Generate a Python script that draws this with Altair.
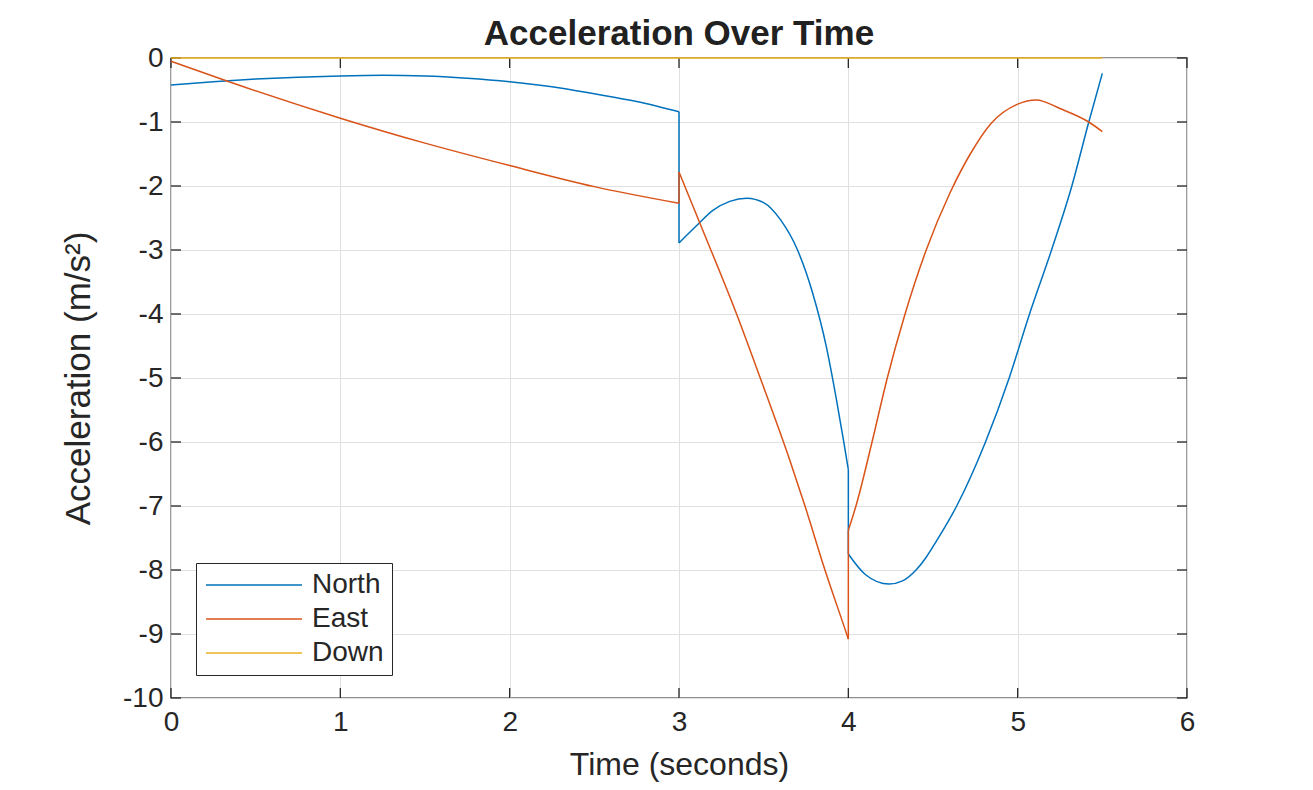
import altair as alt
import pandas as pd

# values; each series is split where it jumps
north_parts = [
    ([0.0, 0.25, 0.5, 0.75, 1.0, 1.25, 1.5, 1.75, 2.0, 2.25, 2.5, 2.75, 3.0],
     [-0.42, -0.37, -0.33, -0.30, -0.28, -0.27, -0.28, -0.315, -0.37, -0.45, -0.56, -0.68, -0.84]),
    ([3.0, 3.1, 3.2, 3.3, 3.4, 3.5, 3.6, 3.7, 3.79, 3.87, 3.93, 3.97, 4.0],
     [-2.89, -2.63, -2.38, -2.24, -2.19, -2.26, -2.53, -3.0, -3.68, -4.51, -5.34, -5.95, -6.43]),
    ([4.0, 4.1, 4.24, 4.32, 4.4, 4.46, 4.52, 4.64, 4.81, 4.95, 5.07, 5.2, 5.32, 5.42, 5.5],
     [-7.75, -8.07, -8.22, -8.17, -8.0, -7.8, -7.55, -7.0, -6.0, -5.0, -4.0, -3.0, -2.0, -1.0, -0.24]),
]
east_parts = [
    ([0.0, 0.33, 1.0, 1.5, 2.0, 2.5, 3.0],
     [-0.05, -0.36, -0.94, -1.33, -1.68, -2.01, -2.27]),
    ([3.0, 3.12, 3.34, 3.48, 3.655, 3.744, 3.862, 3.99, 4.0],
     [-1.78, -2.56, -4.0, -5.0, -6.29, -7.0, -8.0, -9.0, -9.08]),
    ([4.0, 4.045, 4.14, 4.23, 4.335, 4.46, 4.6, 4.72, 4.84, 5.0, 5.11, 5.25, 5.42, 5.5],
     [-7.38, -7.0, -6.0, -5.0, -4.0, -3.0, -2.11, -1.50, -1.03, -0.72, -0.655, -0.79, -1.0, -1.15]),
]
down_parts = [
    ([0.0, 5.5], [0.0, 0.0]),
]

series = ["North", "East", "Down"]
colors = ["#0072BD", "#D95319", "#EDB120"]

x_ticks = [0, 1, 2, 3, 4, 5, 6]
y_ticks = [0, -1, -2, -3, -4, -5, -6, -7, -8, -9, -10]

rows = []
for name, parts in zip(series, [north_parts, east_parts, down_parts]):
    prev = None
    for k, (ts, vs) in enumerate(parts):
        if prev is not None:
            # vertical connector at the jump
            seg = f"{name}-jump{k}"
            rows.append({"series": name, "seg": seg, "t": prev[0], "v": prev[1]})
            rows.append({"series": name, "seg": seg, "t": ts[0], "v": vs[0]})
        for t, v in zip(ts, vs):
            rows.append({"series": name, "seg": f"{name}-{k}", "t": t, "v": v})
        prev = (ts[-1], vs[-1])
df = pd.DataFrame(rows)
df["idx"] = range(len(df))

font = "Liberation Sans"
W, H = 1016, 640

xscale = alt.Scale(domain=[0, 6], nice=False, zero=False)
yscale = alt.Scale(domain=[-10, 0], nice=False, zero=False)

lines = alt.Chart(df).mark_line(strokeWidth=1.5, interpolate="monotone").encode(
    x=alt.X("t:Q", scale=xscale, title="Time (seconds)",
            axis=alt.Axis(values=x_ticks, ticks=False, domain=False, labelPadding=10,
                          titlePadding=13, labelExpr="toString(datum.value)",
                          labelOverlap=False, labelFlush=False, titleFontSize=32)),
    y=alt.Y("v:Q", scale=yscale, title="Acceleration  (m/s²)",
            axis=alt.Axis(values=y_ticks, ticks=False, domain=False, labelPadding=8,
                          titlePadding=26, labelExpr="toString(datum.value)",
                          labelOverlap=False, labelFlush=False, titleFontSize=35)),
    color=alt.Color("series:N", title=None,
                    scale=alt.Scale(domain=series, range=colors),
                    sort=series,
                    legend=alt.Legend(orient="none", legendX=25, legendY=505,
                                      symbolType="M-1,0H7", symbolSize=576,
                                      symbolStrokeWidth=1.5, labelFontSize=28,
                                      labelFont=font, labelColor="#262626",
                                      labelOffset=80, rowPadding=6, padding=8,
                                      strokeColor="#262626", fillColor="white")),
    detail="seg:N",
    order="idx:Q",
)

xt = pd.DataFrame({"t": x_ticks})
yt = pd.DataFrame({"v": y_ticks})

tick_style = dict(color="#262626", strokeWidth=1.3)
xt_bottom = alt.Chart(xt).mark_rule(**tick_style).encode(
    x=alt.X("t:Q", scale=xscale), y=alt.value(H), y2=alt.value(H - 10))
xt_top = alt.Chart(xt).mark_rule(**tick_style).encode(
    x=alt.X("t:Q", scale=xscale), y=alt.value(0), y2=alt.value(10))
yt_left = alt.Chart(yt).mark_rule(**tick_style).encode(
    y=alt.Y("v:Q", scale=yscale), x=alt.value(0), x2=alt.value(10))
yt_right = alt.Chart(yt).mark_rule(**tick_style).encode(
    y=alt.Y("v:Q", scale=yscale), x=alt.value(W - 10), x2=alt.value(W))

chart = alt.layer(xt_bottom, xt_top, yt_left, yt_right, lines).properties(
    width=W,
    height=H,
    title=alt.Title("Acceleration Over Time", fontSize=35, font=font,
                    fontWeight="bold", color="#212121", anchor="middle",
                    frame="group", offset=6, dy=14),
    autosize=alt.AutoSizeParams(type="none"),
    padding={"left": 163, "top": 50, "right": 118, "bottom": 84},
).configure(
    background="white",
).configure_axis(
    labelFont=font, titleFont=font, labelFontSize=28,
    labelColor="#262626", titleColor="#262626", titleFontWeight="normal",
    gridColor="#E0E0E0", gridWidth=1,
).configure_view(
    stroke="#262626", strokeWidth=1.3,
)

chart.save("out.html", embed_options={"renderer": "svg", "actions": False})
